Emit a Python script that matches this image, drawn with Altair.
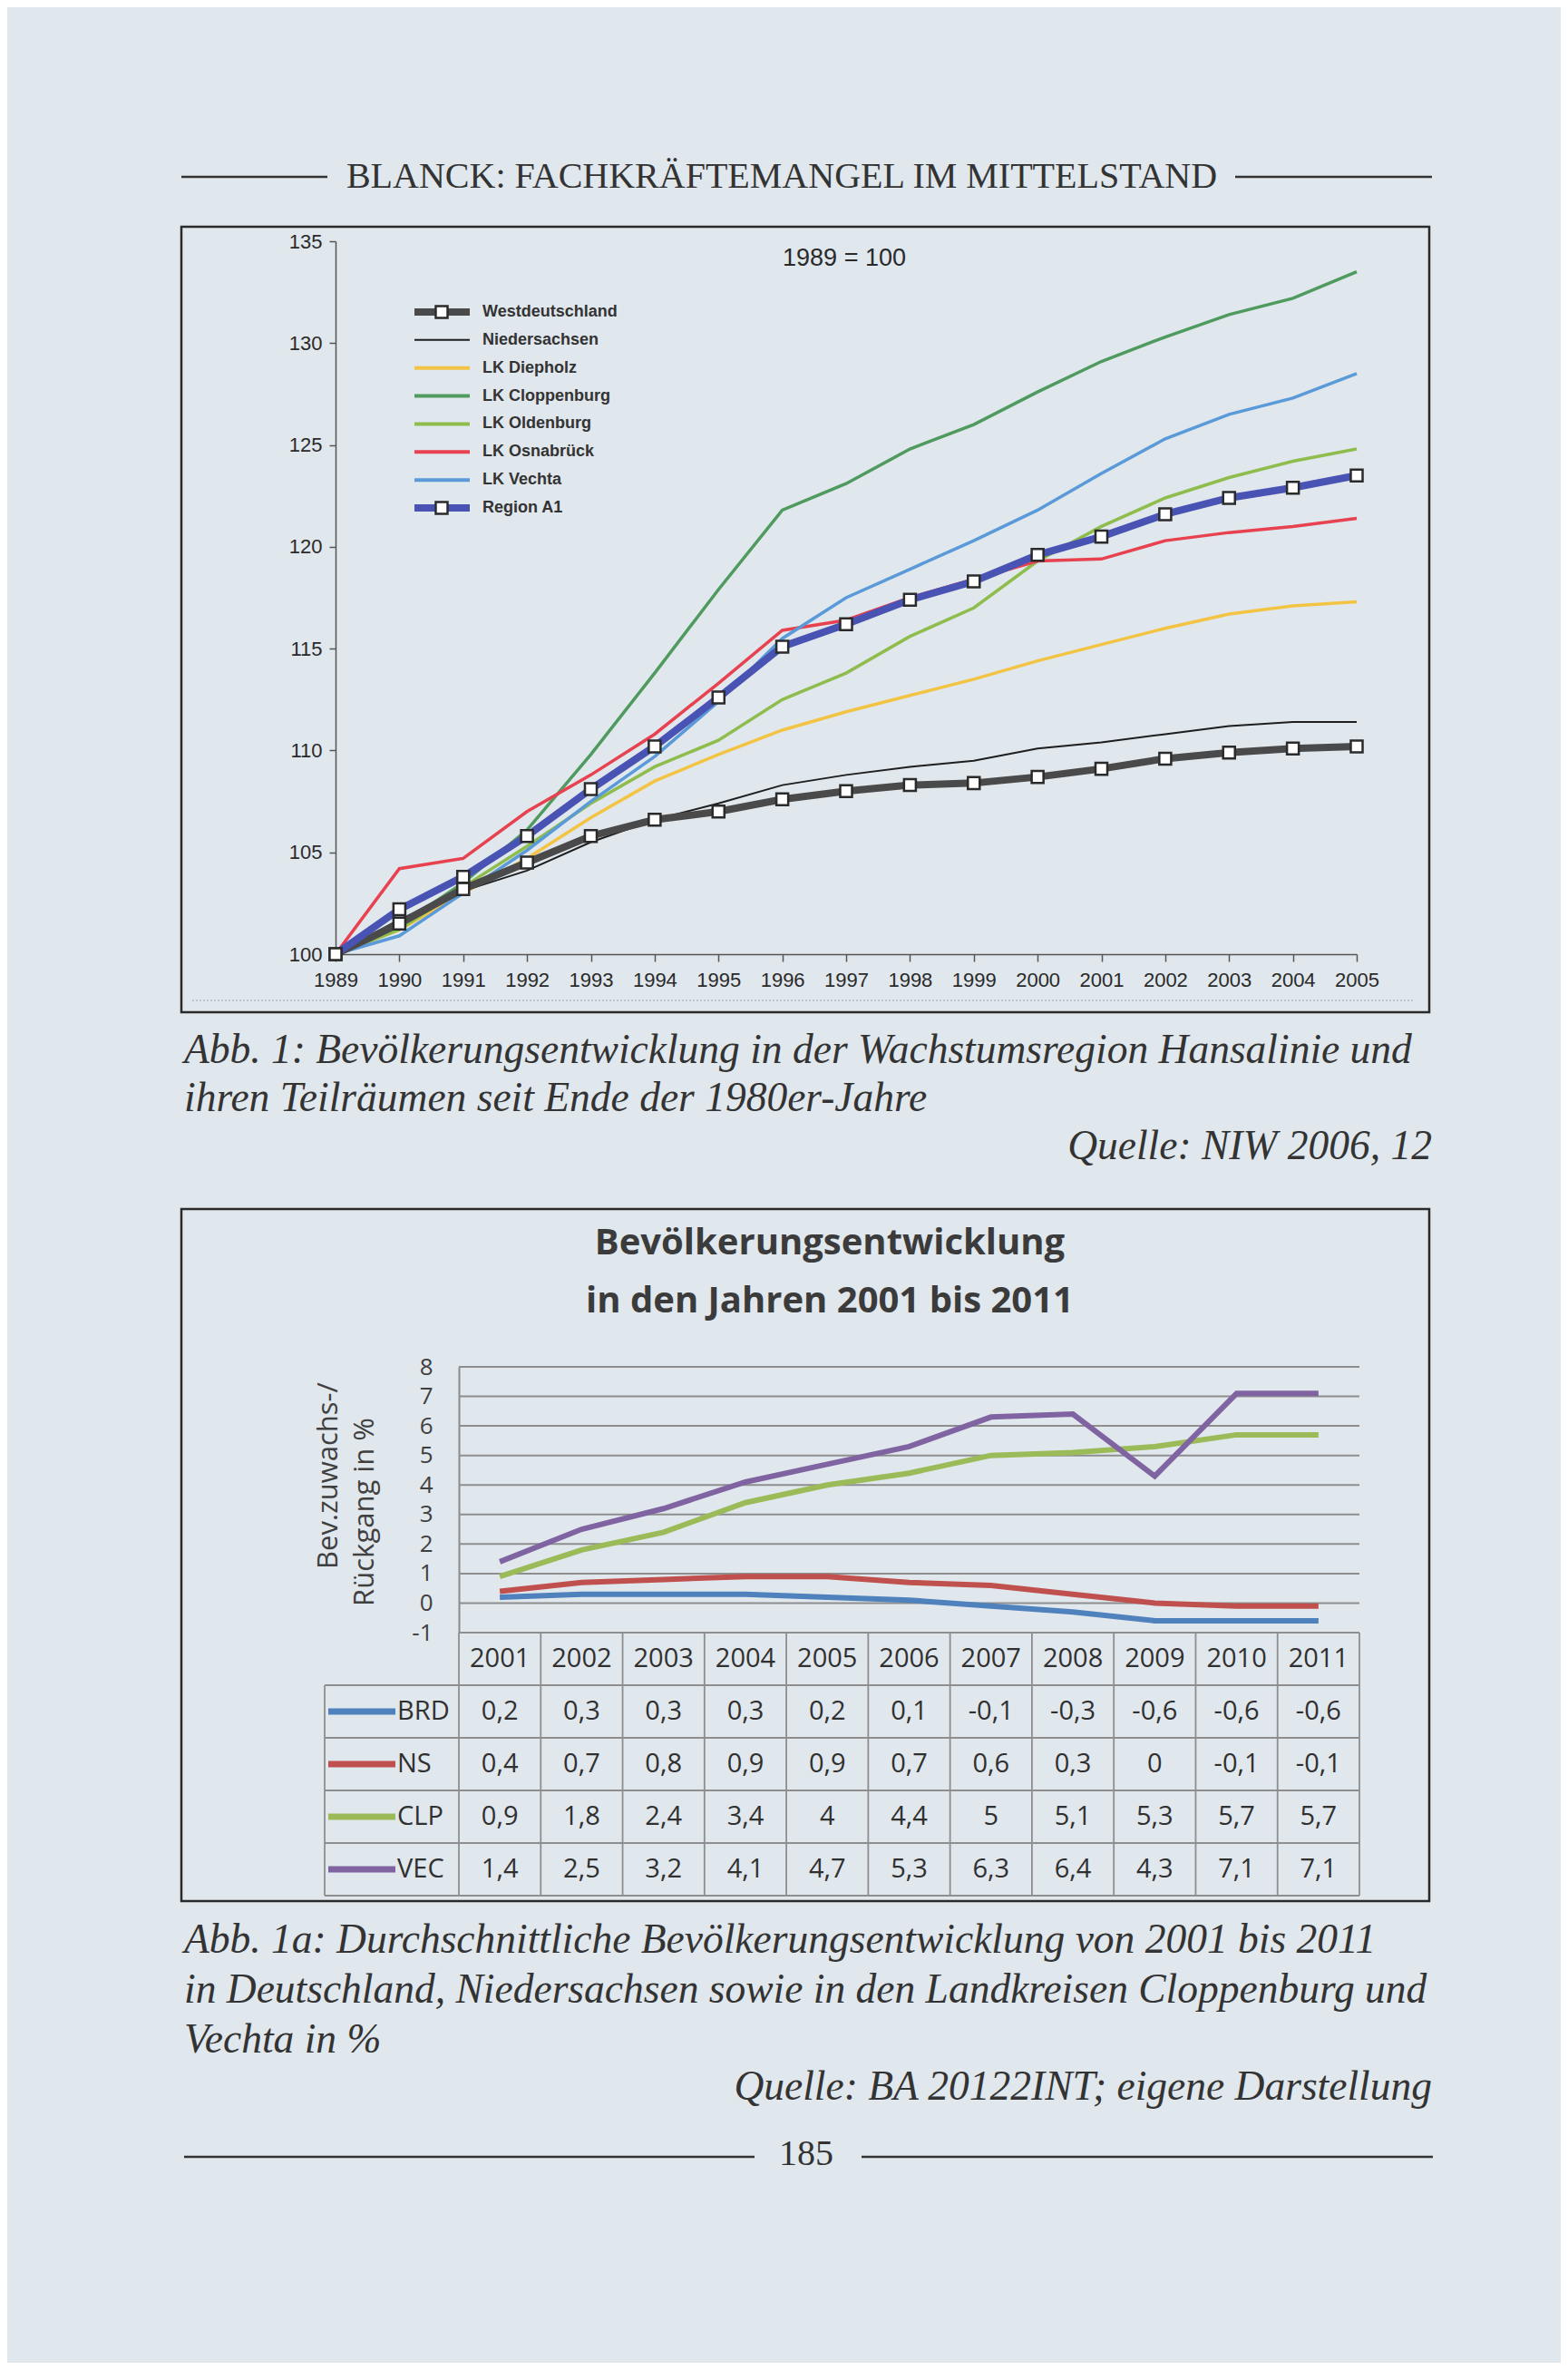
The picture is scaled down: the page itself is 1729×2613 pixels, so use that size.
import altair as alt
import pandas as pd

# ---------------- data: figure 1 (1989 = 100) ----------------
years1 = list(range(1989, 2006))
series1 = ["Westdeutschland", "Niedersachsen", "LK Diepholz", "LK Cloppenburg",
           "LK Oldenburg", "LK Osnabrück", "LK Vechta", "Region A1"]
colors1 = ["#4a4a4a", "#1e1e1e", "#f3c443", "#4f9a5e", "#8fbd4d", "#e8414f", "#5a9ad8", "#4953b3"]
westdeutschland = [100, 101.5, 103.2, 104.5, 105.8, 106.6, 107.0, 107.6, 108.0, 108.3, 108.4, 108.7, 109.1, 109.6, 109.9, 110.1, 110.2]
niedersachsen = [100, 101.7, 103.1, 104.1, 105.5, 106.6, 107.4, 108.3, 108.8, 109.2, 109.5, 110.1, 110.4, 110.8, 111.2, 111.4, 111.4]
diepholz = [100, 101.2, 103.0, 104.7, 106.7, 108.5, 109.8, 111.0, 111.9, 112.7, 113.5, 114.4, 115.2, 116.0, 116.7, 117.1, 117.3]
cloppenburg = [100, 101.4, 103.5, 106.1, 109.8, 113.8, 117.9, 121.8, 123.1, 124.8, 126.0, 127.6, 129.1, 130.3, 131.4, 132.2, 133.5]
oldenburg = [100, 101.2, 103.3, 105.3, 107.4, 109.2, 110.5, 112.5, 113.8, 115.6, 117.0, 119.3, 121.0, 122.4, 123.4, 124.2, 124.8]
osnabrueck = [100, 104.2, 104.7, 107.0, 108.8, 110.8, 113.3, 115.9, 116.4, 117.5, 118.4, 119.3, 119.4, 120.3, 120.7, 121.0, 121.4]
vechta = [100, 100.9, 103.0, 105.1, 107.5, 109.7, 112.4, 115.5, 117.5, 118.9, 120.3, 121.8, 123.6, 125.3, 126.5, 127.3, 128.5]
region_a1 = [100, 102.2, 103.8, 105.8, 108.1, 110.2, 112.6, 115.1, 116.2, 117.4, 118.3, 119.6, 120.5, 121.6, 122.4, 122.9, 123.5]
values1 = [westdeutschland, niedersachsen, diepholz, cloppenburg, oldenburg, osnabrueck, vechta, region_a1]
yticks1 = [100, 105, 110, 115, 120, 125, 130, 135]

# ---------------- data: figure 1a (2001-2011, %) ----------------
years2 = list(range(2001, 2012))
series2 = ["BRD", "NS", "CLP", "VEC"]
colors2 = ["#4f81bd", "#c0504d", "#9bbb59", "#8064a2"]
brd = [0.2, 0.3, 0.3, 0.3, 0.2, 0.1, -0.1, -0.3, -0.6, -0.6, -0.6]
ns = [0.4, 0.7, 0.8, 0.9, 0.9, 0.7, 0.6, 0.3, 0, -0.1, -0.1]
clp = [0.9, 1.8, 2.4, 3.4, 4, 4.4, 5, 5.1, 5.3, 5.7, 5.7]
vec = [1.4, 2.5, 3.2, 4.1, 4.7, 5.3, 6.3, 6.4, 4.3, 7.1, 7.1]
values2 = [brd, ns, clp, vec]
yticks2 = list(range(-1, 9))

# ---------------- page layout ----------------
W, H = 1713, 2597
BG = "#e0e7ed"
TXT = "#333333"
SERIF = "Liberation Serif"
SANS = "Liberation Sans"
OS = "Open Sans"

one = pd.DataFrame({"k": [0]})


def txt(text, x, y, **kw):
    return alt.Chart(one).mark_text(text=text, **kw).encode(x=alt.value(x), y=alt.value(y))


def hrule(x1, x2, y, **kw):
    return alt.Chart(one).mark_rule(**kw).encode(x=alt.value(x1), x2=alt.value(x2), y=alt.value(y))


def frame(x1, x2, y1, y2):
    return alt.Chart(one).mark_rect(fillOpacity=0, stroke="#2a2a2a", strokeWidth=2.5).encode(
        x=alt.value(x1), x2=alt.value(x2), y=alt.value(y1), y2=alt.value(y2))


# header
header = alt.layer(
    hrule(192, 353, 187, color="#333", strokeWidth=2.5),
    hrule(1354, 1571, 187, color="#333", strokeWidth=2.5),
    txt("BLANCK: FACHKRÄFTEMANGEL IM MITTELSTAND", 854, 199, font=SERIF, fontSize=40,
        color=TXT, align="center", baseline="alphabetic"),
)

# ---------------- figure 1 ----------------
df1 = pd.DataFrame([{"year": yr, "value": v, "series": s}
                    for s, vals in zip(series1, values1) for yr, v in zip(years1, vals)])
X1 = alt.X("year:Q", scale=alt.Scale(domain=[1989, 2005], range=[362, 1488], nice=False, zero=False),
           axis=alt.Axis(orient="bottom", offset=1044 - H, values=years1, format="d", title=None,
                         labelFont=SANS, labelFontSize=22, labelColor="#2a2a2a", tickSize=8, tickColor="#555",
                         domainColor="#555", domainWidth=1.5, tickWidth=1.5, labelPadding=10,
                         grid=False, labelOverlap=False, labelFlush=False))
Y1 = alt.Y("value:Q", scale=alt.Scale(domain=[100, 135], range=[1044, 258], nice=False, zero=False),
           axis=alt.Axis(orient="left", offset=-362, values=yticks1, title=None,
                         labelFont=SANS, labelFontSize=22, labelColor="#2a2a2a", tickSize=7, tickColor="#555",
                         domainColor="#555", domainWidth=1.5, tickWidth=1.5, labelPadding=8,
                         grid=False, labelOverlap=False, labelFlush=False))
C1 = alt.Color("series:N", scale=alt.Scale(domain=series1, range=colors1), legend=None)

thin_names = ["LK Diepholz", "LK Cloppenburg", "LK Oldenburg", "LK Osnabrück", "LK Vechta"]
base1 = alt.Chart(df1).encode(x=X1, y=Y1, color=C1, detail="series:N")
lines_thin = base1.transform_filter(alt.FieldOneOfPredicate(field="series", oneOf=thin_names)).mark_line(strokeWidth=3.5)
line_ns = base1.transform_filter(alt.datum.series == "Niedersachsen").mark_line(strokeWidth=2)
line_west = base1.transform_filter(alt.datum.series == "Westdeutschland").mark_line(strokeWidth=8)
line_reg = base1.transform_filter(alt.datum.series == "Region A1").mark_line(strokeWidth=8)
squares = alt.Chart(df1).transform_filter(
    alt.FieldOneOfPredicate(field="series", oneOf=["Westdeutschland", "Region A1"])
).mark_square(size=170, fill="white", stroke="#2b2b2b", strokeWidth=2.5, opacity=1).encode(x=X1, y=Y1)

fig1 = alt.layer(lines_thin, line_ns, line_west, line_reg, squares)

# legend of figure 1
leg = pd.DataFrame({"series": series1, "idx": list(range(len(series1)))})
YL = alt.Y("idx:Q", scale=alt.Scale(domain=[0, len(series1) - 1], range=[336, 552], nice=False, zero=False), axis=None)
CL = alt.Color("series:N", scale=alt.Scale(domain=series1, range=colors1), legend=None)
lbase = alt.Chart(leg).encode(y=YL, color=CL, x=alt.value(449), x2=alt.value(510))
legend1 = alt.layer(
    lbase.transform_filter(alt.FieldOneOfPredicate(field="series", oneOf=thin_names)).mark_rule(strokeWidth=4),
    lbase.transform_filter(alt.datum.series == "Niedersachsen").mark_rule(strokeWidth=2),
    lbase.transform_filter(alt.FieldOneOfPredicate(field="series", oneOf=["Westdeutschland", "Region A1"])).mark_rule(strokeWidth=8),
    alt.Chart(leg).transform_filter(
        alt.FieldOneOfPredicate(field="series", oneOf=["Westdeutschland", "Region A1"])
    ).mark_square(size=170, fill="white", stroke="#2b2b2b", strokeWidth=2.5, opacity=1).encode(x=alt.value(479), y=YL),
    alt.Chart(leg).mark_text(align="left", baseline="middle", font=SANS, fontSize=18, fontWeight="bold",
                             color="#333").encode(x=alt.value(524), y=YL, text="series:N"),
)

fig1_deco = alt.layer(
    frame(192, 1568, 242, 1108),
    hrule(204, 1552, 1095, color="#9aa3ab", strokeWidth=1, strokeDash=[2, 2]),
    txt("1989 = 100", 923, 277, font=SANS, fontSize=27, color="#2a2a2a", align="center", baseline="middle"),
)

cap_style = dict(font=SERIF, fontSize=45.5, fontStyle="italic", color=TXT, baseline="alphabetic")
caption1 = alt.layer(
    txt("Abb. 1: Bevölkerungsentwicklung in der Wachstumsregion Hansalinie und", 195, 1164, align="left", **cap_style),
    txt("ihren Teilräumen seit Ende der 1980er-Jahre", 195, 1217, align="left", **cap_style),
    txt("Quelle: NIW 2006, 12", 1571, 1270, align="right", **cap_style),
)

# ---------------- figure 1a ----------------
df2 = pd.DataFrame([{"year": yr, "value": v, "series": s}
                    for s, vals in zip(series2, values2) for yr, v in zip(years2, vals)])
X2 = alt.X("year:O", scale=alt.Scale(type="point", domain=years2, range=[498, 1491], padding=0.5), axis=None)
Y2 = alt.Y("value:Q", scale=alt.Scale(domain=[-1, 8], range=[1792, 1499], nice=False, zero=False),
           axis=alt.Axis(orient="left", offset=-498, values=yticks2, title=None, labelFont=OS,
                         labelExpr="'' + datum.value",
                         labelFontSize=26, labelColor="#404040", ticks=False, labelPadding=29,
                         domainColor="#8a8a8a", domainWidth=2, grid=False, labelOverlap=False, labelFlush=False))
C2 = alt.Color("series:N", scale=alt.Scale(domain=series2, range=colors2), legend=None)

grid2 = alt.Chart(pd.DataFrame({"value": yticks2})).mark_rule(color="#8e8e8e", strokeWidth=2).encode(
    y=Y2, x=alt.value(498), x2=alt.value(1491))
lines2 = alt.Chart(df2).mark_line(strokeWidth=6).encode(x=X2, y=Y2, color=C2, detail="series:N")
fig2 = alt.layer(grid2, lines2)

# data table below figure 1a
ncol = len(years2)
nrow = len(series2)
col_w = (1491 - 498) / ncol
label_left = -148 / col_w  # label column left edge, in column units
vlines = pd.DataFrame({"cx": list(range(ncol + 1)), "cy": [0] * (ncol + 1), "cy2": [nrow + 1] * (ncol + 1)})
vlines = pd.concat([vlines, pd.DataFrame({"cx": [label_left], "cy": [1], "cy2": [nrow + 1]})])
hlines = pd.DataFrame({"cy": list(range(nrow + 2)),
                       "cx": [0] + [label_left] * (nrow + 1),
                       "cx2": [ncol] * (nrow + 2)})
cells = [{"cx": k + 0.5, "cy": 0.5, "label": str(yr)} for k, yr in enumerate(years2)]
for r, vals in enumerate(values2):
    for k, v in enumerate(vals):
        cells.append({"cx": k + 0.5, "cy": r + 1.5, "label": f"{v:g}".replace(".", ",")})
cells = pd.DataFrame(cells)
rowlab = pd.DataFrame({"series": series2, "cy": [r + 1.5 for r in range(nrow)]})

XT = alt.X("cx:Q", scale=alt.Scale(domain=[0, ncol], range=[498, 1491], nice=False, zero=False), axis=None)
YT = alt.Y("cy:Q", scale=alt.Scale(domain=[0, nrow + 1], range=[1792, 2082], nice=False, zero=False), axis=None)
table = alt.layer(
    alt.Chart(vlines).mark_rule(color="#8e8e8e", strokeWidth=1.8).encode(x=XT, y=YT, y2="cy2:Q"),
    alt.Chart(hlines).mark_rule(color="#8e8e8e", strokeWidth=1.8).encode(x=XT, x2="cx2:Q", y=YT),
    alt.Chart(cells).mark_text(font=OS, fontSize=29, color="#303030", align="center", baseline="middle").encode(
        x=XT, y=YT, text="label:N"),
    alt.Chart(rowlab).mark_rule(strokeWidth=7).encode(
        x=alt.value(354), x2=alt.value(428), y=YT,
        color=alt.Color("series:N", scale=alt.Scale(domain=series2, range=colors2), legend=None)),
    alt.Chart(rowlab).mark_text(font=OS, fontSize=29, color="#303030", align="left", baseline="middle").encode(
        x=alt.value(430), y=YT, text="series:N"),
)

fig2_deco = alt.layer(
    frame(192, 1568, 1325, 2088),
    txt("Bevölkerungsentwicklung", 907, 1375, font=OS, fontSize=40, fontWeight="bold",
        color="#3b3b3b", align="center", baseline="alphabetic"),
    txt("in den Jahren 2001 bis 2011", 907, 1439, font=OS, fontSize=40, fontWeight="bold",
        color="#3b3b3b", align="center", baseline="alphabetic"),
    txt("Bev.zuwachs-/", 355, 1619, font=OS, fontSize=31, color="#404040", angle=270,
        align="center", baseline="middle"),
    txt("Rückgang in %", 395, 1659, font=OS, fontSize=31, color="#404040", angle=270,
        align="center", baseline="middle"),
)

caption2 = alt.layer(
    txt("Abb. 1a: Durchschnittliche Bevölkerungsentwicklung von 2001 bis 2011", 195, 2145, align="left", **cap_style),
    txt("in Deutschland, Niedersachsen sowie in den Landkreisen Cloppenburg und", 195, 2200, align="left", **cap_style),
    txt("Vechta in %", 195, 2255, align="left", **cap_style),
    txt("Quelle: BA 20122INT; eigene Darstellung", 1571, 2307, align="right", **cap_style),
    hrule(195, 824, 2370, color="#333", strokeWidth=2.5),
    hrule(942, 1572, 2370, color="#333", strokeWidth=2.5),
    txt("185", 881, 2379, font=SERIF, fontSize=40, color=TXT, align="center", baseline="alphabetic"),
)

chart = alt.layer(
    header, fig1_deco, fig1, legend1, caption1, fig2_deco, fig2, table, caption2
).resolve_scale(
    x="independent", y="independent", color="independent"
).properties(
    width=W, height=H, padding=0, background=BG,
    autosize=alt.AutoSizeParams(type="none"),
).configure_view(strokeWidth=0)

chart.save("out.html", embed_options={"renderer": "svg", "actions": False})
